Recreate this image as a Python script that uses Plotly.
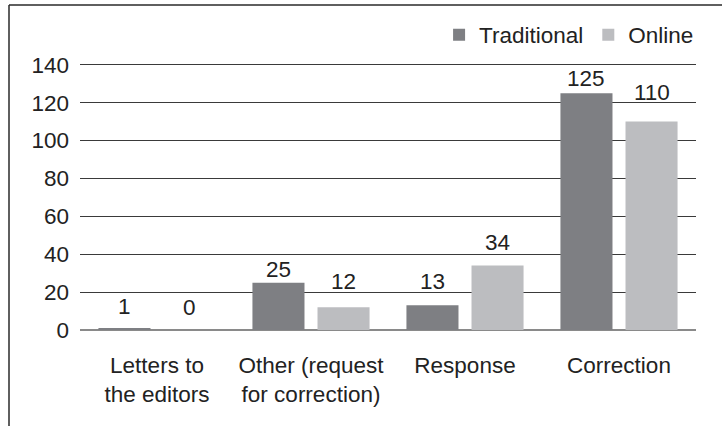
import plotly.graph_objects as go

categories = ["Letters to<br>the editors", "Other (request<br>for correction)", "Response", "Correction"]
traditional = [1, 25, 13, 125]
online = [0, 12, 34, 110]
y_ticks = [0, 20, 40, 60, 80, 100, 120, 140]

# style: extra vertical gap (px) between each value label and its bar top, as in the reference
label_gap_trad = [14, 6, 16, 7]
label_gap_online = [15, 18, 16, 22]

FONT = "Liberation Sans, Arial, sans-serif"
TXT = "#222222"
FS = 22.5
BARGAP = 0.155
GROUPGAP = 0.2

fig = go.Figure()
fig.add_trace(go.Bar(name="Traditional", x=categories, y=traditional,
                     marker=dict(color="#7e7f83", line=dict(width=0))))
fig.add_trace(go.Bar(name="Online", x=categories, y=online,
                     marker=dict(color="#bcbdc0", line=dict(width=0))))

# value labels placed over each bar's centre (derived from the group layout)
slot = (1 - BARGAP) / 2
offsets = [-slot / 2, slot / 2]
annotations = []
for off, vals, gaps in [(offsets[0], traditional, label_gap_trad), (offsets[1], online, label_gap_online)]:
    for i, v in enumerate(vals):
        annotations.append(dict(x=i + off, y=v, xref="x", yref="y", text=str(v), showarrow=False,
                                yanchor="bottom", xanchor="center", yshift=gaps[i] - 7,
                                font=dict(size=FS, color=TXT, family=FONT)))

L, R, T, B = 80, 26, 61, 96
W, H = 722, 426
pw, ph = W - L - R, H - T - B

def px(x):
    return (x - L) / pw

def py(y):
    return (H - B - y) / ph

fig.update_layout(
    width=W, height=H,
    margin=dict(l=L, r=R, t=T, b=B),
    paper_bgcolor="white", plot_bgcolor="white",
    font=dict(family=FONT, size=FS, color=TXT),
    barmode="group", bargap=BARGAP, bargroupgap=GROUPGAP,
    showlegend=True,
    legend=dict(orientation="h", x=1.005, xanchor="right", y=py(35), yanchor="middle",
                font=dict(size=FS, color=TXT, family=FONT), bgcolor="rgba(0,0,0,0)",
                traceorder="normal", itemsizing="constant", itemwidth=30),
    xaxis=dict(showgrid=False, showline=False, ticks="", tickfont=dict(size=FS, color=TXT),
               ticklabelstandoff=19),
    yaxis=dict(range=[0, 142], tickvals=y_ticks, showgrid=True, gridcolor="#3a3a3a", gridwidth=1,
               zeroline=True, zerolinecolor="#8a8a8a", zerolinewidth=2, showline=False, ticks="",
               tickfont=dict(size=FS, color=TXT), ticklabelstandoff=10),
    annotations=annotations,
    shapes=[
        dict(type="line", xref="paper", yref="paper", x0=px(9), x1=px(722), y0=py(5), y1=py(5),
             line=dict(color="#2a2a2a", width=1.5)),
        dict(type="line", xref="paper", yref="paper", x0=px(9), x1=px(9), y0=py(5), y1=py(426),
             line=dict(color="#2a2a2a", width=1.5)),
    ],
)

fig.write_html("out.html")
